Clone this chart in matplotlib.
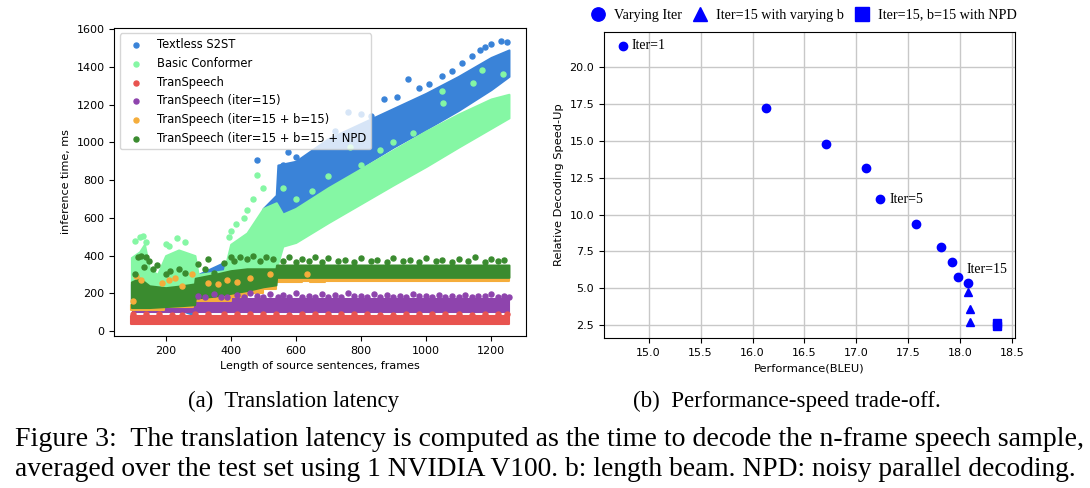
import matplotlib
matplotlib.use('Agg')
import matplotlib.pyplot as plt

# ---- (a) latency clouds: envelopes (frames -> ms) ----
blue_x = [95, 200, 280, 300, 400, 450, 470, 500, 540, 545, 600, 700, 800, 900, 1000, 1100, 1200, 1255]
blue_lo = [130, 140, 90, 150, 200, 280, 300, 400, 560, 620, 650, 760, 870, 975, 1070, 1170, 1280, 1350]
blue_hi = [250, 260, 270, 300, 380, 480, 500, 650, 720, 880, 900, 1020, 1100, 1180, 1260, 1350, 1450, 1490]
blue_dot_x = [480, 560, 575, 600, 640, 680, 720, 760, 800, 830, 870, 910, 945, 980, 1010, 1050, 1080, 1110, 1140, 1165, 1180, 1200, 1230, 1250]
blue_dot_y = [905, 880, 950, 925, 900, 960, 1060, 1160, 1150, 1140, 1230, 1240, 1335, 1290, 1310, 1350, 1380, 1420, 1460, 1490, 1505, 1520, 1540, 1530]

conf_x = [95, 120, 135, 150, 175, 200, 240, 290, 300, 380, 400, 450, 500, 540, 560, 600, 700, 800, 900, 1000, 1100, 1200, 1255]
conf_lo = [150, 150, 150, 150, 150, 150, 150, 150, 180, 200, 210, 250, 300, 330, 450, 470, 575, 675, 775, 872, 975, 1075, 1130]
conf_hi = [390, 420, 460, 330, 300, 400, 430, 400, 300, 320, 460, 520, 650, 680, 620, 650, 760, 860, 960, 1060, 1150, 1230, 1255]
conf_dot_x = [105, 120, 130, 140, 200, 210, 236, 260, 395, 400, 415, 440, 450, 470, 482, 500, 560, 600, 650, 700, 766, 800, 860, 900, 960, 1048, 1053, 1146, 1171, 1238]
conf_dot_y = [480, 500, 505, 470, 460, 450, 495, 470, 500, 530, 570, 600, 640, 700, 825, 760, 760, 700, 740, 820, 973, 880, 960, 1000, 1050, 1274, 1209, 1315, 1386, 1363]

red_x = [95, 1255]
red_lo = [40, 40]
red_hi = [80, 80]
red_dot_x = [100, 140, 180, 220, 250, 290, 330, 380, 420, 460, 500, 540, 580, 620, 660, 700, 740, 780, 820, 860, 900, 940, 980, 1020, 1060, 1100, 1140, 1180, 1220, 1250]
red_dot_y = [88, 92, 90, 87, 86, 91, 90, 88, 88, 93, 92, 89, 87, 91, 90, 88, 88, 92, 91, 87, 86, 90, 89, 92, 90, 88, 87, 91, 90, 88]

purple_x = [100, 290, 1255]
purple_lo = [100, 102, 102]
purple_hi = [132, 172, 172]
purple_dot_x = [300, 320, 350, 370, 390, 420, 440, 460, 480, 500, 520, 545, 560, 580, 600, 620, 640, 660, 680, 700, 720, 740, 760, 780, 800, 820, 840,
                860, 880, 900, 920, 940, 960, 980, 1000, 1020, 1040, 1060, 1080, 1100, 1120, 1140, 1160, 1180, 1200, 1220, 1240, 1255]
purple_dot_y = [185, 178, 195, 182, 180, 190, 178, 200, 185, 180, 195, 182, 190, 178, 200, 183, 185, 180, 195, 182, 190, 178, 200, 186, 185, 180, 195,
                182, 190, 180, 185, 178, 195, 184, 188, 180, 190, 182, 185, 178, 192, 180, 188, 184, 195, 180, 185, 180]

orange_x = [95, 195, 285, 400, 450, 500, 540, 620, 645, 690, 1255]
orange_lo = [112, 125, 158, 180, 200, 225, 258, 268, 258, 265, 265]
orange_hi = [140, 155, 188, 210, 232, 260, 290, 300, 285, 292, 292]
orange_dot_x = [100, 110, 125, 190, 210, 230, 250, 280, 330, 360, 390, 420, 460, 520, 635]
orange_dot_y = [160, 290, 270, 255, 270, 280, 240, 300, 255, 250, 270, 260, 280, 300, 300]

npd_x = [95, 120, 150, 200, 250, 289, 291, 350, 400, 450, 500, 539, 541, 700, 1255]
npd_lo = [125, 125, 125, 130, 135, 140, 175, 185, 200, 215, 235, 245, 285, 285, 285]
npd_hi = [260, 280, 240, 230, 240, 250, 280, 300, 320, 330, 330, 330, 350, 350, 350]
npd_dot_x = [105, 115, 125, 135, 140, 150, 160, 175, 200, 215, 240, 260, 300, 320, 330, 350, 380, 400, 410, 430, 450, 470, 490, 510, 530,
             560, 580, 600, 620, 640, 660, 680, 700, 730, 750, 780, 800, 830, 850, 880, 900, 930, 950, 980, 1000, 1030, 1050, 1080, 1100,
             1130, 1150, 1180, 1200, 1220, 1240]
npd_dot_y = [300, 390, 400, 340, 395, 370, 330, 350, 300, 320, 330, 310, 355, 330, 380, 310, 360, 395, 370, 390, 380, 400, 370, 395, 380,
             370, 390, 365, 380, 370, 395, 368, 385, 370, 375, 368, 385, 372, 378, 366, 385, 370, 375, 366, 385, 370, 378, 368, 382,
             372, 390, 368, 380, 372, 375]

# ---- (b) performance vs speed-up ----
iter_bleu = [14.75, 16.13, 16.71, 17.09, 17.23, 17.57, 17.81, 17.92, 17.98, 18.07]
iter_speed = [21.45, 17.22, 14.79, 13.14, 11.04, 9.34, 7.83, 6.78, 5.79, 5.34]
beam_bleu = [18.07, 18.09, 18.09]
beam_speed = [4.72, 3.59, 2.73]
npd_bleu = [18.35, 18.35]
npd_speed = [2.64, 2.45]

series = [
    ('Textless S2ST', '#3a83d8', blue_x, blue_lo, blue_hi, blue_dot_x, blue_dot_y, None),
    ('Basic Conformer', '#85f7a4', conf_x, conf_lo, conf_hi, conf_dot_x, conf_dot_y, None),
    ('TranSpeech', '#e8534f', red_x, red_lo, red_hi, red_dot_x, red_dot_y, None),
    ('TranSpeech (iter=15)', '#8e44ad', purple_x, purple_lo, purple_hi, purple_dot_x, purple_dot_y, 'post'),
    ('TranSpeech (iter=15 + b=15)', '#f5ad3b', orange_x, orange_lo, orange_hi, orange_dot_x, orange_dot_y, 'post'),
    ('TranSpeech (iter=15 + b=15 + NPD', '#3a8b2f', npd_x, npd_lo, npd_hi, npd_dot_x, npd_dot_y, None),
]

fig = plt.figure(figsize=(10.9, 4.88), dpi=100)

ax1 = fig.add_axes([0.1049, 0.3115, 0.3777, 0.6318])
for name, col, xs, lo, hi, dx, dy, st in series:
    ax1.fill_between(xs, lo, hi, color=col, lw=1.5, step=st)
    ax1.scatter(dx, dy, s=13, color=col, label=name, zorder=2)
ax1.set_xlim(42.5, 1307.5)
ax1.set_ylim(-26, 1608)
ax1.set_xticks([200, 400, 600, 800, 1000, 1200])
ax1.set_yticks(range(0, 1601, 200))
ax1.tick_params(labelsize=8)
ax1.set_xlabel('Length of source sentences, frames', fontsize=8)
ax1.set_ylabel('inference time, ms', fontsize=8)
ax1.legend(loc='upper left', fontsize=8.3)

ax2 = fig.add_axes([0.5541, 0.3068, 0.3774, 0.6283])
ax2.grid(True, color='#c8c8c8', lw=1)
ax2.set_axisbelow(True)
ax2.plot(iter_bleu, iter_speed, 'o', color='blue', ms=6, label='Varying Iter')
ax2.plot(beam_bleu, beam_speed, '^', color='blue', ms=6, label='Iter=15 with varying b')
ax2.plot(npd_bleu, npd_speed, 's', color='blue', ms=6, label='Iter=15, b=15 with NPD')
ax2.set_xlim(14.57, 18.53)
ax2.set_ylim(1.6, 22.42)
ax2.set_xticks([15.0, 15.5, 16.0, 16.5, 17.0, 17.5, 18.0, 18.5])
ax2.set_yticks([2.5, 5.0, 7.5, 10.0, 12.5, 15.0, 17.5, 20.0])
ax2.tick_params(labelsize=8)
ax2.set_xlabel('Performance(BLEU)', fontsize=8.2)
ax2.set_ylabel('Relative Decoding Speed-Up', fontsize=8.2)
serif = ['Liberation Serif', 'DejaVu Serif']
ax2.text(14.84, 21.45, 'Iter=1', family=serif, fontsize=10, va='center')
ax2.text(17.32, 11.04, 'Iter=5', family=serif, fontsize=10, va='center')
ax2.text(18.06, 6.27, 'Iter=15', family=serif, fontsize=10, va='center')
ax2.legend(loc='center', bbox_to_anchor=(0.7376, 0.969), bbox_transform=fig.transFigure,
           ncol=3, frameon=False, markerscale=1.6, handlelength=1.0, handletextpad=0.6,
           columnspacing=0.8, prop={'family': serif, 'size': 10.2})

fig.text(293 / 1090, 1 - 401 / 488, '(a)  Translation latency', family=serif, fontsize=16.4,
         ha='center', va='center')
fig.text(787 / 1090, 1 - 401 / 488, '(b)  Performance-speed trade-off.', family=serif, fontsize=16.6,
         ha='center', va='center')
fig.text(15 / 1090, 1 - 446.3 / 488,
         'Figure 3:  The translation latency is computed as the time to decode the n-frame speech sample,',
         family=serif, fontsize=20.1, va='baseline')
fig.text(15 / 1090, 1 - 476.3 / 488,
         'averaged over the test set using 1 NVIDIA V100. b: length beam. NPD: noisy parallel decoding.',
         family=serif, fontsize=19.8, va='baseline')

fig.savefig('out.png', dpi=100)
